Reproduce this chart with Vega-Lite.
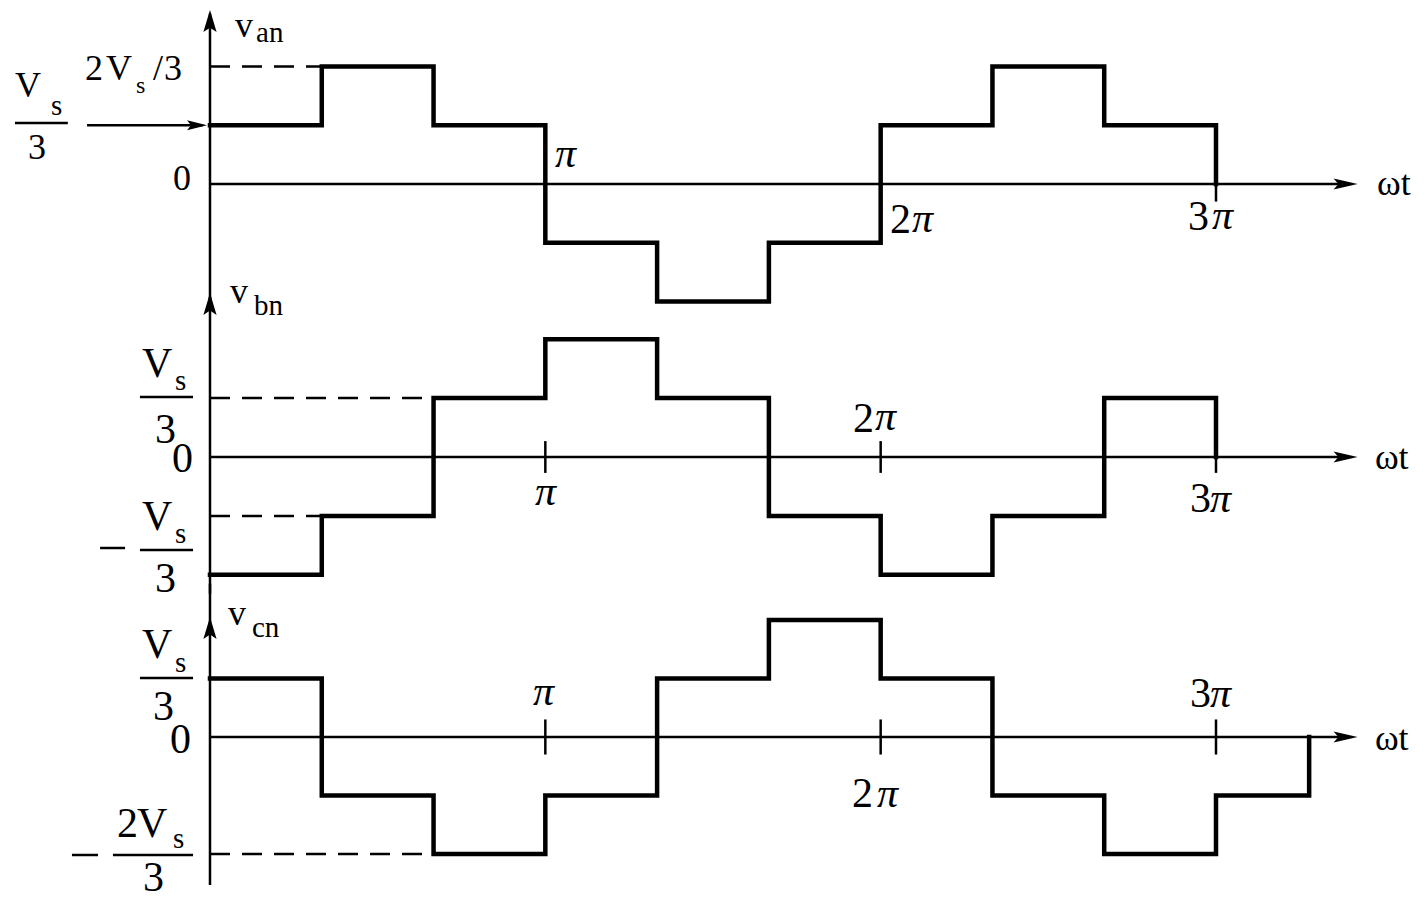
{
  "$schema": "https://vega.github.io/schema/vega-lite/v6.json",
  "padding": 0,
  "spacing": 0,
  "bounds": "flush",
  "background": "white",
  "config": {"view": {"stroke": null}},
  "vconcat": [
    {
      "width": 1427,
      "height": 300,
      "encoding": {
        "x": {"field": "x", "type": "quantitative", "scale": {"domain": [-112.72, 653.26], "nice": false, "zero": false}, "axis": null},
        "y": {"field": "y", "type": "quantitative", "scale": {"domain": [-1.9745, 3.1319], "nice": false, "zero": false}, "axis": null}
      },
      "layer": [
        {
          "data": {"values": [{"x": 0, "y": 1}, {"x": 60, "y": 2}, {"x": 120, "y": 1}, {"x": 180, "y": -1}, {"x": 240, "y": -2}, {"x": 300, "y": -1}, {"x": 360, "y": 1}, {"x": 420, "y": 2}, {"x": 480, "y": 1}, {"x": 540, "y": 0}]},
          "mark": {"type": "line", "interpolate": "step-after", "color": "black", "strokeWidth": 4.5, "strokeJoin": "miter", "strokeCap": "square"}
        },
        {
          "data": {"values": [{"x": 0, "x2": 608, "y": 0}, {"x": -104.7, "x2": -76.3, "y": 1.038}, {"x": -66, "x2": -4, "y": 1}]},
          "mark": {"type": "rule", "color": "black", "strokeWidth": 2.5},
          "encoding": {"x2": {"field": "x2"}}
        },
        {
          "data": {"values": [{"x": 0, "y": -2.05, "y2": 2.9}, {"x": 540, "y": -0.3, "y2": 0}]},
          "mark": {"type": "rule", "color": "black", "strokeWidth": 2.5},
          "encoding": {"y2": {"field": "y2"}}
        },
        {
          "data": {"values": [{"x": 0, "x2": 60, "y": 2}]},
          "mark": {"type": "rule", "color": "black", "strokeWidth": 2.5, "strokeDash": [20, 12]},
          "encoding": {"x2": {"field": "x2"}}
        },
        {
          "data": {"values": [{"x": 616, "y": 0}]},
          "mark": {"type": "point", "shape": "M0,0L-2,-0.45L-1.6,0L-2,0.45Z", "filled": true, "size": 576, "color": "black", "opacity": 1}
        },
        {
          "data": {"values": [{"x": -1.6, "y": 1}]},
          "mark": {"type": "point", "shape": "M0,0L-2,-0.5L-1.6,0L-2,0.5Z", "filled": true, "size": 400, "color": "black", "opacity": 1}
        },
        {
          "data": {"values": [{"x": 0, "y": 2.96}]},
          "mark": {"type": "point", "shape": "M0,0L-0.6,2L0,1.6L0.6,2Z", "filled": true, "size": 484, "color": "black", "opacity": 1}
        },
        {
          "data": {"values": [{"x": -104.7, "y": 1.481, "t": "V"}, {"x": -97.7, "y": 0.426, "t": "3"}, {"x": -67.1, "y": 1.77, "t": "2"}, {"x": -55.8, "y": 1.77, "t": "V"}, {"x": -30.6, "y": 1.77, "t": "/"}, {"x": -24.7, "y": 1.77, "t": "3"}, {"x": -19.9, "y": -0.102, "t": "0"}, {"x": 13.4, "y": 2.502, "t": "v"}, {"x": 626.4, "y": -0.187, "t": "ωt"}]},
          "mark": {"type": "text", "align": "left", "baseline": "alphabetic", "font": "Liberation Serif", "fontSize": 36, "color": "black"},
          "encoding": {"text": {"field": "t"}}
        },
        {
          "data": {"values": [{"x": -39.7, "y": 1.549, "t": "s"}]},
          "mark": {"type": "text", "align": "left", "baseline": "alphabetic", "font": "Liberation Serif", "fontSize": 24, "color": "black"},
          "encoding": {"text": {"field": "t"}}
        },
        {
          "data": {"values": [{"x": 24.7, "y": 2.417, "t": "an"}, {"x": -85.3, "y": 1.174, "t": "s"}]},
          "mark": {"type": "text", "align": "left", "baseline": "alphabetic", "font": "Liberation Serif", "fontSize": 29, "color": "black"},
          "encoding": {"text": {"field": "t"}}
        },
        {
          "data": {"values": [{"x": 365, "y": -0.834, "t": "2"}, {"x": 525, "y": -0.783, "t": "3"}]},
          "mark": {"type": "text", "align": "left", "baseline": "alphabetic", "font": "Liberation Serif", "fontSize": 42, "color": "black"},
          "encoding": {"text": {"field": "t"}}
        },
        {
          "data": {"values": [{"x": 185.2, "y": 0.289, "t": "π"}, {"x": 376.8, "y": -0.817, "t": "π"}, {"x": 537.8, "y": -0.766, "t": "π"}]},
          "mark": {"type": "text", "align": "left", "baseline": "alphabetic", "font": "Liberation Serif", "fontStyle": "italic", "fontSize": 42, "color": "black"},
          "encoding": {"text": {"field": "t"}}
        }
      ]
    },
    {
      "width": 1427,
      "height": 290,
      "encoding": {
        "x": {"field": "x", "type": "quantitative", "scale": {"domain": [-112.72, 653.26], "nice": false, "zero": false}, "axis": null},
        "y": {"field": "y", "type": "quantitative", "scale": {"domain": [-2.2581, 2.6655], "nice": false, "zero": false}, "axis": null}
      },
      "layer": [
        {
          "data": {"values": [{"x": 0, "y": -2}, {"x": 60, "y": -1}, {"x": 120, "y": 1}, {"x": 180, "y": 2}, {"x": 240, "y": 1}, {"x": 300, "y": -1}, {"x": 360, "y": -2}, {"x": 420, "y": -1}, {"x": 480, "y": 1}, {"x": 540, "y": 0}]},
          "mark": {"type": "line", "interpolate": "step-after", "color": "black", "strokeWidth": 4.5, "strokeJoin": "miter", "strokeCap": "square"}
        },
        {
          "data": {"values": [{"x": 0, "x2": 608, "y": 0}, {"x": -37.6, "x2": -9.1, "y": 1.019}, {"x": -37.6, "x2": -9.1, "y": -1.579}, {"x": -59, "x2": -45.6, "y": -1.545}]},
          "mark": {"type": "rule", "color": "black", "strokeWidth": 2.5},
          "encoding": {"x2": {"field": "x2"}}
        },
        {
          "data": {"values": [{"x": 0, "y": -2.32, "y2": 2.72}, {"x": 180, "y": -0.27, "y2": 0.27}, {"x": 360, "y": -0.27, "y2": 0.27}, {"x": 540, "y": -0.27, "y2": 0.27}]},
          "mark": {"type": "rule", "color": "black", "strokeWidth": 2.5},
          "encoding": {"y2": {"field": "y2"}}
        },
        {
          "data": {"values": [{"x": 0, "x2": 120, "y": 1}, {"x": 0, "x2": 60, "y": -1}]},
          "mark": {"type": "rule", "color": "black", "strokeWidth": 2.5, "strokeDash": [20, 12]},
          "encoding": {"x2": {"field": "x2"}}
        },
        {
          "data": {"values": [{"x": 616, "y": 0}]},
          "mark": {"type": "point", "shape": "M0,0L-2,-0.45L-1.6,0L-2,0.45Z", "filled": true, "size": 576, "color": "black", "opacity": 1}
        },
        {
          "data": {"values": [{"x": 0, "y": 2.784}]},
          "mark": {"type": "point", "shape": "M0,0L-0.6,2L0,1.6L0.6,2Z", "filled": true, "size": 484, "color": "black", "opacity": 1}
        },
        {
          "data": {"values": [{"x": 10.7, "y": 2.615, "t": "v"}, {"x": 625.3, "y": -0.204, "t": "ωt"}]},
          "mark": {"type": "text", "align": "left", "baseline": "alphabetic", "font": "Liberation Serif", "fontSize": 36, "color": "black"},
          "encoding": {"text": {"field": "t"}}
        },
        {
          "data": {"values": [{"x": 23.6, "y": 2.411, "t": "bn"}, {"x": -18.8, "y": 1.138, "t": "s"}, {"x": -18.8, "y": -1.46, "t": "s"}]},
          "mark": {"type": "text", "align": "left", "baseline": "alphabetic", "font": "Liberation Serif", "fontSize": 29, "color": "black"},
          "encoding": {"text": {"field": "t"}}
        },
        {
          "data": {"values": [{"x": -36.5, "y": 1.358, "t": "V"}, {"x": -29.5, "y": 0.238, "t": "3"}, {"x": -20.4, "y": -0.255, "t": "0"}, {"x": -36.5, "y": -1.239, "t": "V"}, {"x": -29.5, "y": -2.292, "t": "3"}, {"x": 345.1, "y": 0.424, "t": "2"}, {"x": 526, "y": -0.934, "t": "3"}]},
          "mark": {"type": "text", "align": "left", "baseline": "alphabetic", "font": "Liberation Serif", "fontSize": 42, "color": "black"},
          "encoding": {"text": {"field": "t"}}
        },
        {
          "data": {"values": [{"x": 174.5, "y": -0.815, "t": "π"}, {"x": 357, "y": 0.458, "t": "π"}, {"x": 536.8, "y": -0.934, "t": "π"}]},
          "mark": {"type": "text", "align": "left", "baseline": "alphabetic", "font": "Liberation Serif", "fontStyle": "italic", "fontSize": 42, "color": "black"},
          "encoding": {"text": {"field": "t"}}
        }
      ]
    },
    {
      "width": 1427,
      "height": 310,
      "encoding": {
        "x": {"field": "x", "type": "quantitative", "scale": {"domain": [-112.72, 653.26], "nice": false, "zero": false}, "axis": null},
        "y": {"field": "y", "type": "quantitative", "scale": {"domain": [-2.7863, 2.5128], "nice": false, "zero": false}, "axis": null}
      },
      "layer": [
        {
          "data": {"values": [{"x": 0, "y": 1}, {"x": 60, "y": -1}, {"x": 120, "y": -2}, {"x": 180, "y": -1}, {"x": 240, "y": 1}, {"x": 300, "y": 2}, {"x": 360, "y": 1}, {"x": 420, "y": -1}, {"x": 480, "y": -2}, {"x": 540, "y": -1}, {"x": 590, "y": 0}]},
          "mark": {"type": "line", "interpolate": "step-after", "color": "black", "strokeWidth": 4.5, "strokeJoin": "miter", "strokeCap": "square"}
        },
        {
          "data": {"values": [{"x": 0, "x2": 608, "y": 0}, {"x": -37.6, "x2": -9.1, "y": 1.009}, {"x": -52.1, "x2": -9.1, "y": -2.017}, {"x": -74.1, "x2": -60.1, "y": -2.017}]},
          "mark": {"type": "rule", "color": "black", "strokeWidth": 2.5},
          "encoding": {"x2": {"field": "x2"}}
        },
        {
          "data": {"values": [{"x": 0, "y": -2.53, "y2": 2.62}, {"x": 180, "y": -0.3, "y2": 0.3}, {"x": 360, "y": -0.3, "y2": 0.3}, {"x": 540, "y": -0.3, "y2": 0.3}]},
          "mark": {"type": "rule", "color": "black", "strokeWidth": 2.5},
          "encoding": {"y2": {"field": "y2"}}
        },
        {
          "data": {"values": [{"x": 0, "x2": 120, "y": -2}]},
          "mark": {"type": "rule", "color": "black", "strokeWidth": 2.5, "strokeDash": [20, 12]},
          "encoding": {"x2": {"field": "x2"}}
        },
        {
          "data": {"values": [{"x": 616, "y": 0}]},
          "mark": {"type": "point", "shape": "M0,0L-2,-0.45L-1.6,0L-2,0.45Z", "filled": true, "size": 576, "color": "black", "opacity": 1}
        },
        {
          "data": {"values": [{"x": 0, "y": 2.051}]},
          "mark": {"type": "point", "shape": "M0,0L-0.6,2L0,1.6L0.6,2Z", "filled": true, "size": 484, "color": "black", "opacity": 1}
        },
        {
          "data": {"values": [{"x": 9.7, "y": 1.915, "t": "v"}, {"x": 625.3, "y": -0.222, "t": "ωt"}]},
          "mark": {"type": "text", "align": "left", "baseline": "alphabetic", "font": "Liberation Serif", "fontSize": 36, "color": "black"},
          "encoding": {"text": {"field": "t"}}
        },
        {
          "data": {"values": [{"x": 22.5, "y": 1.709, "t": "cn"}, {"x": -18.8, "y": 1.111, "t": "s"}, {"x": -19.9, "y": -1.897, "t": "s"}]},
          "mark": {"type": "text", "align": "left", "baseline": "alphabetic", "font": "Liberation Serif", "fontSize": 29, "color": "black"},
          "encoding": {"text": {"field": "t"}}
        },
        {
          "data": {"values": [{"x": -36.5, "y": 1.35, "t": "V"}, {"x": -30.6, "y": 0.291, "t": "3"}, {"x": -21.5, "y": -0.274, "t": "0"}, {"x": -49.9, "y": -1.709, "t": "2"}, {"x": -39.2, "y": -1.709, "t": "V"}, {"x": -36, "y": -2.632, "t": "3"}, {"x": 344.6, "y": -1.197, "t": "2"}, {"x": 526, "y": 0.513, "t": "3"}]},
          "mark": {"type": "text", "align": "left", "baseline": "alphabetic", "font": "Liberation Serif", "fontSize": 42, "color": "black"},
          "encoding": {"text": {"field": "t"}}
        },
        {
          "data": {"values": [{"x": 173.4, "y": 0.547, "t": "π"}, {"x": 358, "y": -1.197, "t": "π"}, {"x": 536.8, "y": 0.513, "t": "π"}]},
          "mark": {"type": "text", "align": "left", "baseline": "alphabetic", "font": "Liberation Serif", "fontStyle": "italic", "fontSize": 42, "color": "black"},
          "encoding": {"text": {"field": "t"}}
        }
      ]
    }
  ]
}
